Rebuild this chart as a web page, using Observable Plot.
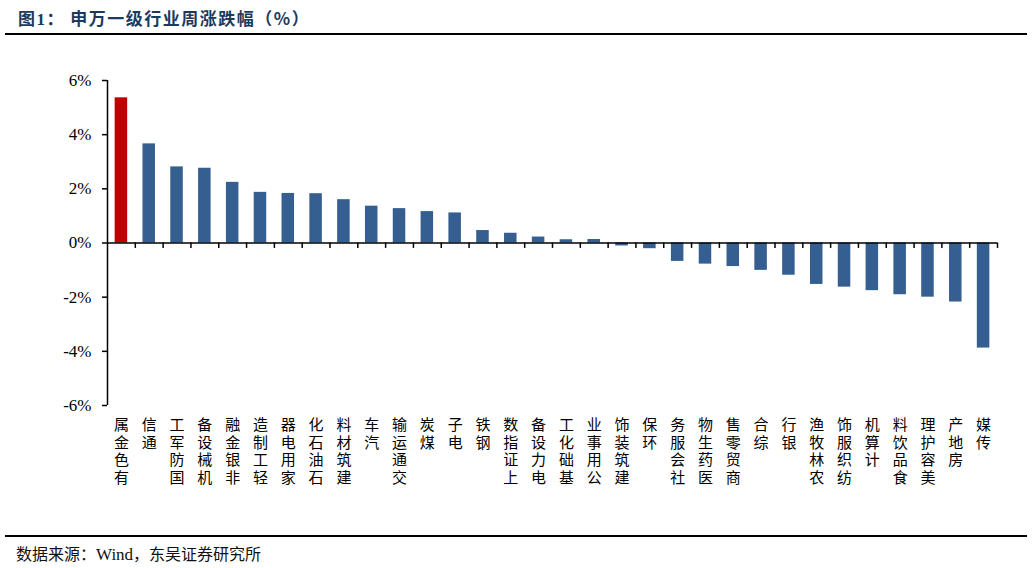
<!DOCTYPE html>
<html>
<head>
<meta charset="utf-8">
<script src="https://cdn.jsdelivr.net/npm/d3@7"></script>
<script src="https://cdn.jsdelivr.net/npm/@observablehq/plot@0.6"></script>
<style>
  html, body { margin: 0; padding: 0; background: #fff; }
  #wrap { position: relative; width: 1032px; height: 568px; overflow: hidden; }
  #title { position: absolute; left: 18px; top: 5px; font: bold 17px "Liberation Serif", "Noto Sans CJK SC", serif; color: #1c3a5e; letter-spacing: 1.5px; white-space: nowrap; }
  #title .cn { font-family: "Noto Sans CJK SC", sans-serif; }
  #rule1 { position: absolute; left: 5px; top: 33px; width: 1022px; height: 2px; background: #000; }
  #chart { position: absolute; left: 0; top: 36px; }
  #rule2 { position: absolute; left: 5px; top: 535px; width: 1022px; height: 1.5px; background: #000; }
  #caption { position: absolute; left: 16px; top: 541px; font: 16px "Noto Sans CJK SC", sans-serif; color: #111; white-space: nowrap; }
  #caption .en { font-family: "Liberation Serif", serif; font-size: 17px; }
</style>
</head>
<body>
<div id="wrap">
  <div id="title">图1：<span class="cn">&nbsp;申万一级行业周涨跌幅（%）</span></div>
  <div id="rule1"></div>
  <div id="chart"></div>
  <div id="rule2"></div>
  <div id="caption">数据来源：<span class="en">Wind</span>，东吴证券研究所</div>
</div>
<script>
const categories = ["有色金属","通信","国防军工","机械设备","非银金融","轻工制造","家用电器","石油石化","建筑材料","汽车","交通运输","煤炭","电子","钢铁","上证指数","电力设备","基础化工","公用事业","建筑装饰","环保","社会服务","医药生物","商贸零售","综合","银行","农林牧渔","纺织服饰","计算机","食品饮料","美容护理","房地产","传媒"];
const values = [5.36,3.66,2.81,2.76,2.24,1.87,1.83,1.82,1.60,1.36,1.27,1.16,1.11,0.46,0.36,0.22,0.12,0.13,-0.11,-0.21,-0.68,-0.78,-0.87,-1.01,-1.19,-1.53,-1.63,-1.76,-1.91,-2.00,-2.18,-3.88];
const highlighted = ["有色金属"];
const yTicks = [-6,-4,-2,0,2,4,6];

const data = categories.map((name, i) => ({name, value: values[i]}));

const W = 1032, H = 494, mL = 107, mR = 35, mT = 44, mB = 125;
const step = (W - mL - mR) / categories.length;
const serif = "'Liberation Serif', 'Times New Roman', serif";
const cjk = "'Noto Sans CJK SC', sans-serif";

const chart = Plot.plot({
  width: W, height: H,
  marginLeft: mL, marginRight: mR, marginTop: mT, marginBottom: mB,
  style: {background: "#fff", color: "#000"},
  x: {domain: categories, paddingInner: 0.55, paddingOuter: 0.275, round: false, axis: null},
  y: {domain: [-6, 6], axis: null},
  marks: [
    Plot.barY(data, {x: "name", y: "value", fill: d => highlighted.includes(d.name) ? "#c00000" : "#365f91"}),
    Plot.ruleY([0], {stroke: "#000", strokeWidth: 1.5}),
    Plot.ruleX([categories[0]], {x: d => d, y1: -6, y2: 6, dx: -step / 2, stroke: "#000", strokeWidth: 1.5}),
    Plot.ruleX(categories, {x: d => d, y1: 0, y2: -0.2, dx: step / 2, stroke: "#000", strokeWidth: 1.5}),
    Plot.axisY({ticks: yTicks, label: null, tickFormat: d => d + "%", tickSize: 5, tickPadding: 11, fontSize: 17, fontFamily: serif, stroke: "#000", strokeWidth: 1.5}),
    Plot.axisX({tickSize: 0, label: null, tickPadding: 12, lineHeight: 1.17, fontSize: 15, fontFamily: cjk,
      tickFormat: d => Array.from(d).reverse().join("\n")})
  ]
});
document.getElementById("chart").appendChild(chart);
</script>
</body>
</html>
